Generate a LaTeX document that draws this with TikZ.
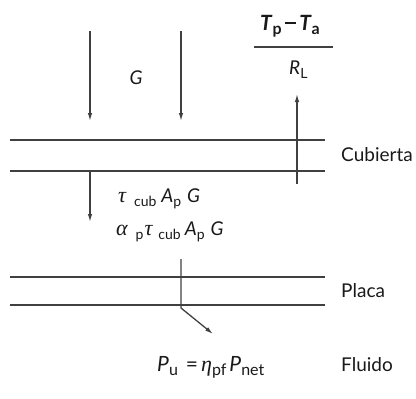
\documentclass[tikz,border=0pt]{standalone}
\usepackage{fontspec}
\setmainfont{Lato}
\newfontfamily\grkfont{Liberation Serif}
\usetikzlibrary{arrows.meta}
\newcommand\lo[1]{\raisebox{-0.45ex}{\fontsize{14}{14}\selectfont #1}}
\newcommand\lob[1]{\raisebox{-0.45ex}{\fontsize{16}{16}\selectfont #1}}
\newcommand\gk[1]{{\fontsize{22}{22}\selectfont\grkfont\itshape #1}}
\begin{document}
\begin{tikzpicture}[x=1pt,y=-1pt,
  ln/.style={line width=1.3pt, draw=black!75},
  arr/.style={ln, -{Latex[length=8pt,width=4.5pt]}},
  lbl/.style={inner sep=0pt, font=\fontsize{19}{21}\selectfont, text=black!90},
  big/.style={lbl, font=\fontsize{21}{23}\selectfont}]
\useasboundingbox (0,0) rectangle (416,399);
% coordinates
\coordinate (ga1) at (90,31);  \coordinate (gb1) at (90,121);
\coordinate (ga2) at (181,31); \coordinate (gb2) at (181,121);
\coordinate (up1) at (297,184); \coordinate (up2) at (297,94);
\coordinate (c1l) at (10,140); \coordinate (c1r) at (325,140);
\coordinate (c2l) at (10,171); \coordinate (c2r) at (325,171);
\coordinate (p1l) at (10,277); \coordinate (p1r) at (325,277);
\coordinate (p2l) at (10,305); \coordinate (p2r) at (325,305);
\coordinate (ta) at (90,171);  \coordinate (tb) at (90,222);
\coordinate (va) at (181,259); \coordinate (vb) at (181,308);
\coordinate (vc) at (213,334);
\coordinate (fbl) at (254,47); \coordinate (fbr) at (333,47);
% lines
\draw[ln] (c1l) -- (c1r);
\draw[ln] (c2l) -- (c2r);
\draw[ln] (p1l) -- (p1r);
\draw[ln] (p2l) -- (p2r);
\draw[ln] (fbl) -- (fbr);
% arrows
\draw[arr] (ga1) -- (gb1);
\draw[arr] (ga2) -- (gb2);
\draw[arr] (up1) -- (up2);
\draw[arr] (ta) -- (tb);
\draw[arr] (va) -- (vb) -- (vc);
% labels
\node[lbl, anchor=base] (G) at (136,84) {\textit{G}};
\node[big, anchor=base west] (num) at (260,30) {\textbf{\textit{T}\lob{p}\hspace{3pt}\rule[0.28em]{0.55em}{0.1em}\hspace{3pt}\textit{T}\lob{a}}};
\node[lbl, anchor=base west] (RL) at (289,74) {\textit{R}\lo{L}};
\node[lbl, anchor=base west] (cub) at (341,161) {Cubierta};
\node[lbl, anchor=base west] (pla) at (341,297) {Placa};
\node[lbl, anchor=base west] (flu) at (341,371) {Fluido};
\node[lbl, anchor=base west] (t1) at (118,202) {\gk{τ}\hspace{8pt}\lo{cub}\hspace{5pt}\textit{A}\lo{p}\hspace{6pt}\textit{G}};
\node[lbl, anchor=base west] (t2) at (116,235) {\gk{α}\hspace{8pt}\lo{p}\hspace{1pt}\gk{τ}\hspace{6pt}\lo{cub}\hspace{4pt}\textit{A}\lo{p}\hspace{6pt}\textit{G}};
\node[big, anchor=base west] (pu) at (157,371) {\textit{P}\lob{u}\hspace{8pt}=\hspace{3pt}\gk{η}\lob{pf}\hspace{3pt}\textit{P}\lob{net}};
\end{tikzpicture}
\end{document}
